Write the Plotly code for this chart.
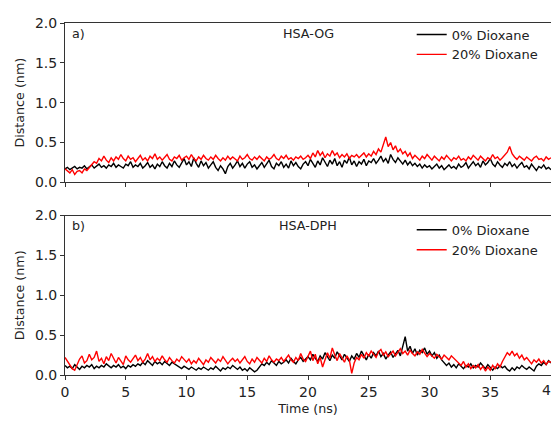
import plotly.graph_objects as go
from plotly.subplots import make_subplots

time_ns = [round(i * 0.2, 1) for i in range(201)]

og_0 = [
0.17,0.19,0.16,0.18,0.20,0.17,0.19,0.18,0.21,0.17,
0.19,0.22,0.18,0.20,0.23,0.19,0.21,0.18,0.22,0.20,
0.24,0.19,0.22,0.20,0.18,0.23,0.21,0.26,0.19,0.22,
0.20,0.24,0.18,0.21,0.25,0.19,0.22,0.17,0.23,0.20,
0.26,0.21,0.18,0.24,0.20,0.27,0.22,0.19,0.25,0.30,
0.22,0.26,0.20,0.31,0.24,0.19,0.27,0.21,0.25,0.18,
0.22,0.26,0.19,0.15,0.21,0.17,0.11,0.20,0.24,0.18,
0.22,0.27,0.20,0.24,0.18,0.23,0.26,0.19,0.22,0.17,
0.21,0.25,0.19,0.23,0.28,0.20,0.17,0.24,0.21,0.26,
0.19,0.23,0.18,0.27,0.21,0.25,0.20,0.17,0.23,0.26,
0.21,0.29,0.24,0.19,0.27,0.22,0.31,0.25,0.20,0.28,
0.23,0.30,0.21,0.26,0.19,0.28,0.24,0.32,0.22,0.27,
0.20,0.26,0.23,0.29,0.21,0.27,0.25,0.30,0.24,0.28,
0.33,0.26,0.30,0.24,0.35,0.29,0.25,0.31,0.27,0.23,
0.28,0.22,0.26,0.21,0.24,0.20,0.23,0.18,0.22,0.19,
0.21,0.17,0.20,0.23,0.18,0.21,0.16,0.19,0.22,0.18,
0.20,0.17,0.23,0.19,0.21,0.25,0.18,0.22,0.26,0.21,
0.24,0.19,0.27,0.22,0.25,0.30,0.23,0.20,0.26,0.22,
0.19,0.24,0.21,0.26,0.20,0.23,0.18,0.22,0.25,0.19,
0.21,0.17,0.23,0.19,0.15,0.20,0.18,0.22,0.17,0.19,
0.16]

og_20 = [
0.17,0.14,0.12,0.16,0.10,0.14,0.15,0.12,0.17,0.15,
0.19,0.22,0.26,0.24,0.30,0.27,0.33,0.28,0.25,0.31,
0.27,0.32,0.29,0.35,0.30,0.27,0.33,0.29,0.31,0.26,
0.30,0.34,0.28,0.31,0.27,0.33,0.30,0.36,0.29,0.32,
0.28,0.31,0.35,0.29,0.27,0.32,0.30,0.34,0.28,0.31,
0.33,0.29,0.35,0.30,0.27,0.32,0.29,0.34,0.30,0.28,
0.32,0.29,0.34,0.30,0.27,0.31,0.28,0.33,0.29,0.32,
0.30,0.27,0.33,0.29,0.31,0.35,0.30,0.28,0.32,0.29,
0.33,0.30,0.27,0.32,0.29,0.31,0.35,0.30,0.28,0.33,
0.30,0.34,0.29,0.31,0.28,0.32,0.30,0.33,0.29,0.31,
0.34,0.30,0.37,0.32,0.40,0.34,0.38,0.31,0.36,0.33,
0.40,0.34,0.37,0.31,0.35,0.32,0.36,0.30,0.34,0.32,
0.35,0.31,0.34,0.37,0.32,0.36,0.33,0.39,0.35,0.42,
0.38,0.48,0.57,0.45,0.50,0.41,0.46,0.38,0.42,0.36,
0.39,0.33,0.37,0.30,0.34,0.31,0.28,0.33,0.30,0.35,
0.31,0.28,0.33,0.30,0.27,0.32,0.29,0.34,0.30,0.27,
0.31,0.29,0.33,0.28,0.30,0.27,0.32,0.29,0.34,0.31,
0.28,0.33,0.30,0.27,0.31,0.29,0.35,0.30,0.32,0.28,
0.31,0.34,0.38,0.45,0.36,0.32,0.29,0.33,0.30,0.28,
0.32,0.29,0.27,0.31,0.33,0.29,0.30,0.27,0.32,0.29,
0.31]

dph_0 = [
0.12,0.09,0.11,0.08,0.13,0.10,0.07,0.11,0.09,0.12,
0.10,0.13,0.08,0.11,0.09,0.12,0.10,0.14,0.11,0.09,
0.12,0.10,0.13,0.09,0.11,0.08,0.12,0.10,0.13,0.11,
0.14,0.12,0.16,0.13,0.18,0.15,0.12,0.17,0.14,0.16,
0.13,0.17,0.15,0.12,0.16,0.14,0.11,0.10,0.08,0.11,
0.09,0.07,0.10,0.08,0.06,0.09,0.07,0.10,0.08,0.06,
0.09,0.07,0.11,0.08,0.05,0.09,0.07,0.10,0.08,0.12,
0.09,0.07,0.10,0.06,0.08,0.05,0.09,0.07,0.04,0.06,
0.10,0.14,0.12,0.16,0.13,0.18,0.15,0.12,0.17,0.14,
0.16,0.19,0.15,0.21,0.17,0.14,0.19,0.22,0.17,0.20,
0.23,0.19,0.26,0.21,0.17,0.24,0.20,0.28,0.22,0.18,
0.25,0.21,0.29,0.23,0.19,0.26,0.22,0.17,0.24,0.20,
0.27,0.22,0.30,0.25,0.19,0.26,0.21,0.28,0.24,0.30,
0.23,0.27,0.20,0.25,0.29,0.22,0.26,0.31,0.24,0.35,
0.48,0.30,0.36,0.27,0.33,0.25,0.31,0.28,0.34,0.26,
0.30,0.24,0.28,0.21,0.25,0.19,0.16,0.12,0.15,0.10,
0.13,0.09,0.14,0.11,0.08,0.12,0.10,0.14,0.09,0.12,
0.10,0.15,0.11,0.08,0.13,0.09,0.06,0.10,0.08,0.12,
0.09,0.11,0.07,0.05,0.09,0.06,0.10,0.08,0.12,0.09,
0.07,0.10,0.08,0.05,0.11,0.14,0.12,0.16,0.13,0.18,
0.15]

dph_20 = [
0.22,0.17,0.12,0.08,0.06,0.14,0.20,0.24,0.15,0.18,
0.26,0.19,0.22,0.30,0.17,0.21,0.14,0.23,0.18,0.27,
0.20,0.15,0.22,0.18,0.13,0.24,0.19,0.16,0.21,0.25,
0.18,0.22,0.16,0.20,0.27,0.19,0.23,0.17,0.21,0.18,
0.24,0.19,0.16,0.22,0.18,0.15,0.20,0.17,0.23,0.19,
0.16,0.20,0.14,0.18,0.15,0.21,0.17,0.13,0.19,0.16,
0.22,0.18,0.15,0.20,0.17,0.23,0.19,0.14,0.18,0.21,
0.17,0.20,0.15,0.19,0.23,0.17,0.14,0.20,0.16,0.22,
0.18,0.15,0.21,0.17,0.24,0.19,0.16,0.20,0.18,0.22,
0.17,0.21,0.25,0.19,0.16,0.22,0.18,0.27,0.20,0.17,
0.23,0.30,0.18,0.26,0.14,0.22,0.10,0.19,0.28,0.21,
0.34,0.25,0.18,0.27,0.21,0.16,0.24,0.19,0.02,0.15,
0.22,0.19,0.26,0.21,0.28,0.24,0.30,0.26,0.22,0.29,
0.32,0.25,0.29,0.23,0.27,0.30,0.24,0.28,0.33,0.27,
0.30,0.25,0.31,0.27,0.24,0.29,0.26,0.32,0.28,0.23,
0.27,0.24,0.21,0.26,0.23,0.20,0.25,0.22,0.19,0.24,
0.21,0.18,0.15,0.12,0.17,0.10,0.14,0.08,0.12,0.09,
0.13,0.07,0.11,0.05,0.10,0.06,0.12,0.08,0.14,0.10,
0.17,0.22,0.28,0.25,0.30,0.24,0.27,0.21,0.25,0.19,
0.22,0.18,0.14,0.19,0.16,0.20,0.15,0.18,0.13,0.17,
0.16]

series_names = ["0% Dioxane", "20% Dioxane"]
series_colors = ["black", "red"]
panel_labels = ["a)", "b)"]
panel_titles = ["HSA-OG", "HSA-DPH"]
x_ticks = [0, 5, 10, 15, 20, 25, 30, 35, 40]
y_ticks = [0.0, 0.5, 1.0, 1.5, 2.0]

FONT = "DejaVu Sans"
TXT = "#222"

fig = make_subplots(rows=2, cols=1, shared_xaxes=False, vertical_spacing=0.094)

panels = [(og_0, og_20), (dph_0, dph_20)]
for r, (s0, s20) in enumerate(panels, start=1):
    leg = "legend" if r == 1 else "legend2"
    for vals, name, col in zip((s0, s20), series_names, series_colors):
        fig.add_trace(go.Scatter(x=time_ns, y=vals, mode="lines", name=name,
                                 line=dict(color=col, width=1.4),
                                 legend=leg, showlegend=True), row=r, col=1)

axis_common = dict(showline=True, linecolor="#333", linewidth=1, mirror=True,
                   ticks="outside", ticklen=4, tickcolor="#333", showgrid=False,
                   zeroline=False, tickfont=dict(family=FONT, size=14, color=TXT))
for r in (1, 2):
    fig.update_xaxes(range=[0, 40], tickvals=x_ticks, **axis_common, row=r, col=1)
    fig.update_yaxes(range=[0, 2.0], tickvals=y_ticks, tickformat=".1f",
                     title=dict(text="Distance (nm)", font=dict(family=FONT, size=12.7, color=TXT), standoff=7),
                     **axis_common, row=r, col=1)
fig.update_xaxes(showticklabels=False, row=1, col=1)
fig.update_xaxes(title=dict(text="Time (ns)", font=dict(family=FONT, size=12.7, color=TXT), standoff=5), row=2, col=1)

# the last tick label sits at the right edge of the page and is partly cut off there
fig.add_annotation(text=str(x_ticks[-1]), xref="x2", yref="y2 domain", x=x_ticks[-1], y=0,
                   xanchor="center", yanchor="top", yshift=-5, showarrow=False,
                   font=dict(family=FONT, size=14, color=TXT))

for i, (lab, ttl) in enumerate(zip(panel_labels, panel_titles)):
    xr = "x domain" if i == 0 else "x2 domain"
    yr = "y domain" if i == 0 else "y2 domain"
    fig.add_annotation(text=lab, xref=xr, yref=yr, x=0.01, y=0.935, xanchor="left", yanchor="middle",
                       showarrow=False, font=dict(family=FONT, size=12.7, color=TXT))
    fig.add_annotation(text=ttl, xref=xr, yref=yr, x=0.5, y=0.935, xanchor="center", yanchor="middle",
                       showarrow=False, font=dict(family=FONT, size=12.7, color=TXT))

leg_common = dict(bgcolor="rgba(0,0,0,0)", borderwidth=0, xanchor="right", yanchor="top",
                  font=dict(family=FONT, size=13, color=TXT), tracegroupgap=0, itemwidth=30)
# the page body adds an 8px offset, so the figure is 8px smaller than the window
fig.update_layout(
    width=551, height=413,
    margin=dict(l=57, r=7, t=9, b=42),
    paper_bgcolor="white", plot_bgcolor="white",
    legend=dict(x=0.985, y=1.01, **leg_common),
    legend2=dict(x=0.985, y=0.455, **leg_common),
)

fig.write_html("out.html")
